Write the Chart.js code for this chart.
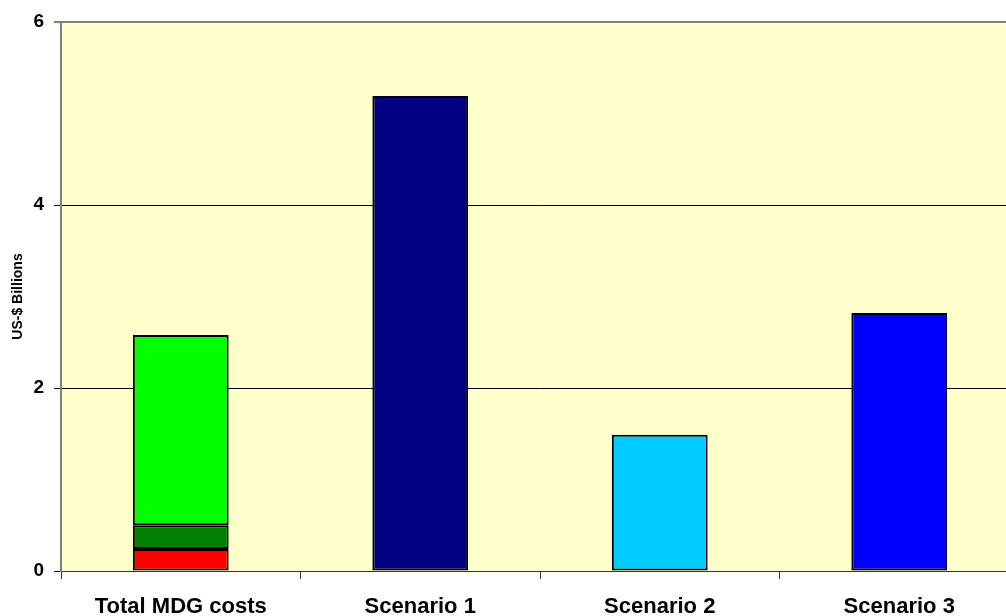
<!DOCTYPE html>
<html>
<head>
<meta charset="utf-8">
<script src="https://cdn.jsdelivr.net/npm/chart.js@4/dist/chart.umd.min.js"></script>
<style>
    html, body { margin: 0; padding: 0; background: #fff; overflow: hidden; }
    #clip { width: 1006px; height: 616px; overflow: hidden; }
    #wrap { width: 1019px; height: 616px; }
</style>
</head>
<body>
<div id="clip"><div id="wrap"><canvas id="chart"></canvas></div></div>
<script>
// categories and values (US-$ Billions)
var categories = ['Total MDG costs', 'Scenario 1', 'Scenario 2', 'Scenario 3'];
var mdgPart1 = [0.24, null, null, null];   // red
var mdgPart2 = [0.26, null, null, null];   // dark green
var mdgPart3 = [2.08, null, null, null];   // light green
var scenarioValues = [null, 5.19, 1.49, 2.82];
var scenarioColors = ['#000000', '#000080', '#00CCFF', '#0000FF'];
var yTicks = [0, 2, 4, 6];

// plot area background
var plotBg = {
    id: 'plotBg',
    beforeDraw: function (chart) {
        var a = chart.chartArea, c = chart.ctx;
        c.save();
        c.fillStyle = '#FFFFCC';
        c.fillRect(a.left, a.top, a.right - a.left, a.bottom - a.top);
        c.restore();
    }
};

var barStyle = {
    borderColor: '#000000',
    borderWidth: 2,
    borderSkipped: false,
    categoryPercentage: 1,
    barPercentage: 0.40
};

var ctx = document.getElementById('chart').getContext('2d');
new Chart(ctx, {
    type: 'bar',
    data: {
        labels: categories,
        datasets: [
            Object.assign({ data: mdgPart1, backgroundColor: '#FF0000' }, barStyle),
            Object.assign({ data: mdgPart2, backgroundColor: '#008000' }, barStyle),
            Object.assign({ data: mdgPart3, backgroundColor: '#00FF00' }, barStyle),
            Object.assign({ data: scenarioValues, backgroundColor: scenarioColors }, barStyle)
        ]
    },
    options: {
        responsive: true,
        maintainAspectRatio: false,
        animation: false,
        layout: { padding: { top: 22, right: 0, left: 0, bottom: 0 } },
        plugins: {
            legend: { display: false },
            tooltip: { enabled: false }
        },
        scales: {
            x: {
                stacked: true,
                grid: {
                    offset: true,
                    drawOnChartArea: false,
                    color: '#333333',
                    tickLength: 8
                },
                border: { color: '#333333' },
                ticks: {
                    color: '#000',
                    padding: 15,
                    font: { family: 'Arial, "Liberation Sans"', size: 22, weight: 'bold' }
                },
                afterFit: function (s) { s.height = 45; }
            },
            y: {
                stacked: true,
                min: 0,
                max: 6,
                afterBuildTicks: function (s) {
                    s.ticks = yTicks.map(function (v) { return { value: v }; });
                },
                grid: {
                    color: function (c) { return c.tick && c.tick.value === 6 ? '#808080' : '#000000'; },
                    lineWidth: function (c) { return c.tick && c.tick.value === 6 ? 2 : 1; },
                    tickLength: 7
                },
                border: { color: '#808080', width: 2 },
                ticks: {
                    color: '#000',
                    padding: 10,
                    font: { family: 'Arial, "Liberation Sans"', size: 19, weight: 'bold' }
                },
                title: {
                    display: true,
                    text: 'US-$ Billions',
                    color: '#000',
                    padding: { top: 10, bottom: 0 },
                    font: { family: 'Arial, "Liberation Sans"', size: 14, weight: 'bold' }
                },
                afterFit: function (s) { s.width = 61; }
            }
        }
    },
    plugins: [plotBg]
});
</script>
</body>
</html>
